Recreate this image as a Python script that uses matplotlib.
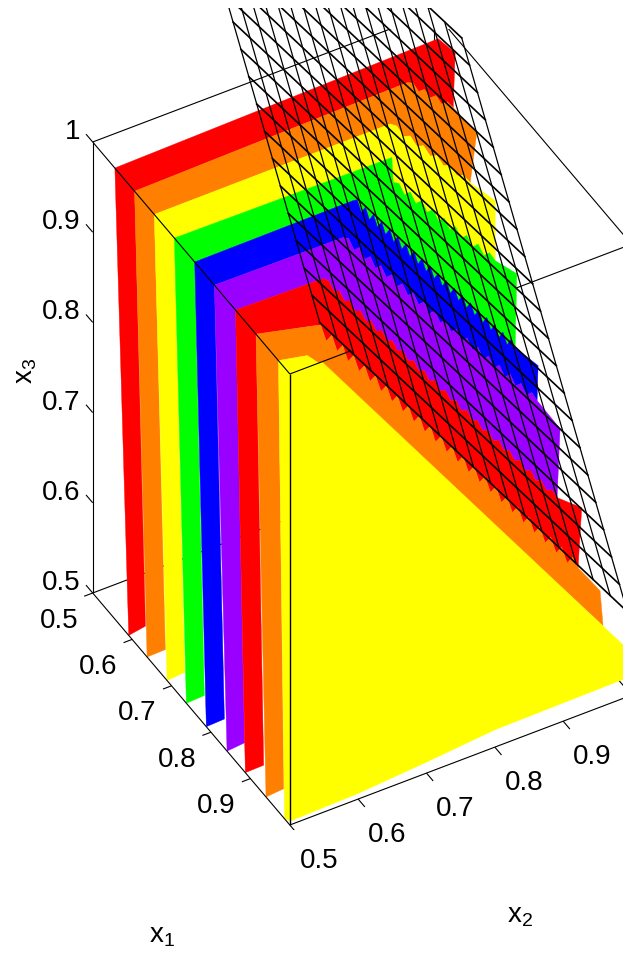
import numpy as np
import matplotlib
matplotlib.use("Agg")
import matplotlib.pyplot as plt
from matplotlib.transforms import Bbox
from mpl_toolkits.mplot3d import proj3d
from mpl_toolkits.mplot3d.art3d import Poly3DCollection

plt.rcParams['font.family'] = ['Liberation Sans']
plt.rcParams['mathtext.fontset'] = 'custom'
plt.rcParams['mathtext.rm'] = 'Liberation Sans'

# ---------- data ----------
band_colors = ['#ff0000', '#ff8000', '#ffff00', '#00ff00', '#0000ff',
               '#9900ff', '#ff0000', '#ff8000', '#ffff00']
roof_x1 = [.555, .605, .655, .706, .7575, .8075, .861, .913, .97]
wall_left_x1 = [.5902, .6368, .6875, .7364, .787, .8396, .886, .9384, .9856]
wall_right_x1 = [.6325, .683, .732, .782, .8327, .884, .9323, .983, 1.0]
wall_left_x3 = .5
wall_right_x3 = .532
crease_pts = [
    [(.523, .9916, .9854)],
    [(.5964, .9039, .9997)],
    [(.6536, .846, 1.0)],
    [(.686, .8297, .9841), (.71, .8179, .9721)],
    [(.7658, .7272, 1.007)],
    [(.8124, .6857, 1.0019)],
    [(.8725, .6218, 1.0057)],
    [(.9273, .5785, .9942)],
    [(.9649, .5451, .99), (.9608, .5694, .9698)],
]
end_pts = [(.523, .9916, .9854), (.5781, .9817, .9402), (.6375, .9723, .8902),
           (.6922, .9773, .8305), (.7607, .967, .7723), (.7932, .9804, .7264),
           (.8718, .9643, .6639), (.9224, .9658, .6118), (.957, .9824, .5606)]
tip_pts = [(.5211, 1.0175, .9614), (.5806, 1.0149, .9045), (.632, 1.012, .856),
           (.6848, 1.0133, .8019), (.7571, 1.0027, .7402), (.7997, 1.0103, .69),
           (.8586, 1.008, .6334), (.9248, .9966, .5786)]
tooth_count = [0, 4, 6, 9, 20, 18, 22, 24, 0]
tooth_size = [0, .003, .003, .004, .005, .004, .003, .006, 0]
front_x2 = [.5, .5, .547, 1.0, 1.0, .9, .8, .7, .6]
front_x3 = [.505, 1.0, 1.0, .547, .522, .521, .52, .513, .507]
mesh_x1 = np.arange(.5, .9301, .02)
mesh_x2 = np.arange(.59, 1.0401, .025)
mesh_sum = 2.5
ticks = [.5, .6, .7, .8, .9]
x3_ticks = [.5, .6, .7, .8, .9, 1.0]
x3_ticklabels = ['0.5', '0.6', '0.7', '0.8', '0.9', '1']

# ---------- axes ----------
fig = plt.figure(figsize=(6.23, 9.6), dpi=100, facecolor='white')
ax = fig.add_axes([0, 0, 1, 1], projection='3d', computed_zorder=False,
                  proj_type='ortho')
ax.view_init(elev=41.96, azim=-29.6)
ax.set_box_aspect((399.4, 393.3, 607))
ax.set_xlim(.5, 1, view_margin=0)
ax.set_ylim(.5, 1, view_margin=0)
ax.set_zlim(.5, 1, view_margin=0)
ax.set_xticks([])
ax.set_yticks([])
ax.set_zticks([])
ax.set_axis_off()


def to_px(x, y, z):
    xs, ys, _ = proj3d.proj_transform(x, y, z, ax.get_proj())
    return ax.transData.transform((xs, ys))


L, left, bottom = 800., -90., 80.
for _ in range(4):
    ax.set_position([left / 623, bottom / 960, L / 623, L / 960])
    ax.apply_aspect()
    p0 = to_px(.5, .5, .5)
    p1 = to_px(.5, .5, 1.)
    L *= 451.0 / (p1[1] - p0[1])
    ax.set_position([left / 623, bottom / 960, L / 623, L / 960])
    ax.apply_aspect()
    p0 = to_px(.5, .5, .5)
    left += 92.7 - p0[0]
    bottom += (960 - 593) - p0[1]
ax.set_position([left / 623, bottom / 960, L / 623, L / 960])
ax.apply_aspect()


def jagged(p, q, n, amp):
    p, q = np.array(p), np.array(q)
    out = []
    for i in range(1, 2 * n):
        r = p + (q - p) * i / (2 * n)
        r[2] += amp if i % 2 else -amp
        out.append(tuple(r))
    return out


def boundary(k):
    pts = list(crease_pts[k])
    if tooth_count[k]:
        pts += jagged(pts[-1], end_pts[k], tooth_count[k], tooth_size[k])
    if k > 0:
        pts.append(end_pts[k])
    return pts


def add_poly(pts, color, z):
    col = Poly3DCollection([pts], facecolors=color, edgecolors=color,
                           linewidths=.3, zorder=z)
    ax.add_collection3d(col, autolim=False)


def seg(p, q, z, lw=.8):
    return ax.plot([p[0], q[0]], [p[1], q[1]], [p[2], q[2]], color='black',
                   lw=lw, zorder=z, solid_capstyle='butt')[0]


def label3d(x, y, z, s, ha='center'):
    px = to_px(x, y, z)
    fig.text(px[0] / 623, px[1] / 960, s, ha=ha, va='center', fontsize=TS, color='black')


# hidden part of the box
seg((.5, .5, .5), (.5, 1, .5), 1)
seg((.5, 1, .5), (.5, 1, 1), 1)
seg((.5, 1, .5), (1, 1, .5), 1)
seg((1, .5, 1), (1, 1, 1), 1)
seg((.5, .5, 1), (.5, 1, 1), 1)
seg((.5, 1, 1), (1, 1, 1), 1)
seg((1, 1, .5), (1, 1, 1), 1)

# coloured bands
for k in range(8):
    pts = [(wall_left_x1[k], .5, wall_left_x3), (roof_x1[k], .5, 1.0)]
    pts += boundary(k)
    pts.append(tip_pts[k])
    pts += boundary(k + 1)[::-1]
    pts += [(roof_x1[k + 1], .5, 1.0), (wall_right_x1[k], .5, wall_right_x3)]
    add_poly(pts, band_colors[k], 10 + k)
add_poly([(wall_left_x1[8], .5, wall_left_x3), (roof_x1[8], .5, 1.0),
          crease_pts[8][0], crease_pts[8][1], (1.0, .547, 1.0), (1.0, .5, .505)],
         band_colors[8], 18)
add_poly([(1.0, a, b) for a, b in zip(front_x2, front_x3)], band_colors[8], 19)

# mesh, cut off just under the top edge of the picture
clip = Bbox.from_extents(0, 0, 623, 952)
for x2 in mesh_x2:
    x1 = np.array([mesh_x1[0], mesh_x1[-1]])
    ln, = ax.plot(x1, [x2, x2], mesh_sum - x1 - x2, color='black', lw=.9, zorder=30)
    ln.set_clip_box(clip)
for x1 in mesh_x1:
    x2 = np.array([mesh_x2[0], mesh_x2[-1]])
    ln, = ax.plot([x1, x1], x2, mesh_sum - x1 - x2, color='black', lw=1.2, zorder=30)
    ln.set_clip_box(clip)

# visible box edges
seg((.5, .5, .5), (.5, .5, 1), 40)
seg((.5, .5, .5), (1, .5, .5), 40)
seg((1, .5, .5), (1, 1, .5), 40)
seg((1, .5, .5), (1, .5, 1), 40, lw=1)
seg((.5, .5, 1), (1, .5, 1), 40)
seg((1, .5, 1), (1, .59, 1), 40)

# ticks and labels
TS = 20
for t, lab in zip(x3_ticks, x3_ticklabels):
    seg((.5, .5, t), (.483, .5, t), 41)
    label3d(.4763, .4961, t, lab, ha='right')
for t in ticks:
    lab = f'{t:.1f}'
    seg((t, .5, .5), (t, .4875, .5), 41)
    label3d(t + .0239, .4365, .5, lab)
    seg((1, t, .5), (1.017, t, .5), 41)
    label3d(1.0766, t - .0018, .5, lab)

fig.text(26 / 623, 1 - 371 / 960, r'$\mathrm{x}_{3}$', rotation=90, ha='center', va='center', fontsize=TS)
fig.text(162 / 623, 1 - 936 / 960, r'$\mathrm{x}_{1}$', ha='center', va='center', fontsize=TS)
fig.text(520 / 623, 1 - 916 / 960, r'$\mathrm{x}_{2}$', ha='center', va='center', fontsize=TS)

fig.savefig('out.png', dpi=100, facecolor='white')
